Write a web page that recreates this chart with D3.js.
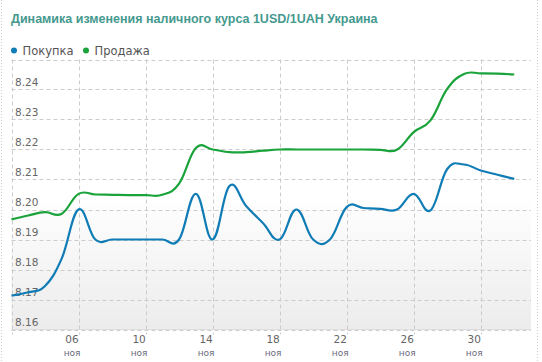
<!DOCTYPE html>
<html>
<head>
<meta charset="utf-8">
<script src="https://cdn.jsdelivr.net/npm/d3@7"></script>
<style>
  body { margin: 0; background: #fff; }
  svg { display: block; }
</style>
</head>
<body>
<div id="chart"></div>
<script>
// days of the period (Nov 2 - Dec 2, 2013)
var startDay = new Date(2013, 10, 2);
var endDay = new Date(2013, 11, 3);

var buyValues = [8.1713, 8.1724, 8.1745, 8.1837, 8.2000, 8.1900, 8.1900, 8.1900, 8.1900, 8.1900,
                 8.1900, 8.2052, 8.1900, 8.2078, 8.2012, 8.1955, 8.1900, 8.2000, 8.1900, 8.1900,
                 8.2008, 8.2005, 8.2002, 8.2000, 8.2052, 8.1997, 8.2135, 8.2150, 8.2130, 8.2116,
                 8.2102];
var sellValues = [8.1967, 8.1980, 8.1991, 8.1986, 8.2052, 8.2050, 8.2049, 8.2048, 8.2048, 8.2049,
                  8.2086, 8.2205, 8.2200, 8.2191, 8.2191, 8.2196, 8.2200, 8.2200, 8.2200, 8.2200,
                  8.2200, 8.2200, 8.2199, 8.2199, 8.2258, 8.2297, 8.2402, 8.2452, 8.2454, 8.2453,
                  8.2450];
var seriesNames = ["Покупка", "Продажа"];
var seriesColors = ["#0f7cb6", "#19a33a"];
var yTicks = [8.16, 8.17, 8.18, 8.19, 8.20, 8.21, 8.22, 8.23, 8.24, 8.25];
var monthLabel = "ноя";
var titleText = "Динамика изменения наличного курса 1USD/1UAH Украина";

var attrs = {
    width: 542,
    height: 362,
    plot: { left: 11.5, right: 531, top: 59.5, bottom: 329.5 }
};

var dates = buyValues.map(function(d, i) { return d3.timeDay.offset(startDay, i); });
var series = [buyValues, sellValues].map(function(vals, s) {
    return { name: seriesNames[s], color: seriesColors[s],
             points: vals.map(function(v, i) { return { date: dates[i], value: v }; }) };
});

var x = d3.scaleTime().domain([startDay, endDay]).range([attrs.plot.left, attrs.plot.right]);
var y = d3.scaleLinear().domain([8.16, 8.25]).range([attrs.plot.bottom, attrs.plot.top]);

var svg = d3.select("#chart").append("svg")
    .attr("width", attrs.width)
    .attr("height", attrs.height);

// background gradient of the plot area
var grad = svg.append("defs").append("linearGradient")
    .attr("id", "plotBg").attr("x1", 0).attr("y1", 0).attr("x2", 0).attr("y2", 1);
grad.append("stop").attr("offset", "0%").attr("stop-color", "#ffffff");
grad.append("stop").attr("offset", "50%").attr("stop-color", "#ffffff");
grad.append("stop").attr("offset", "100%").attr("stop-color", "#ececec");

// dotted frame left and right
[1.5, 537.5].forEach(function(fx) {
    svg.append("line")
        .attr("x1", fx).attr("x2", fx).attr("y1", 0).attr("y2", attrs.height)
        .attr("stroke", "#cfcfcf").attr("stroke-dasharray", "1,2");
});

// title
svg.append("text")
    .attr("x", 11).attr("y", 22.5)
    .attr("font-family", "'Liberation Sans', Arial, sans-serif")
    .attr("font-weight", "bold")
    .attr("font-size", 12.5)
    .attr("fill", "#45998f")
    .text(titleText);

// legend
var legendX = [14, 86];
var legend = svg.selectAll(".legend").data(series).enter().append("g").attr("class", "legend");
legend.append("circle")
    .attr("cx", function(d, i) { return legendX[i]; })
    .attr("cy", 50.5)
    .attr("r", 3)
    .attr("fill", function(d) { return d.color; });
legend.append("text")
    .attr("x", function(d, i) { return legendX[i] + 8.5; })
    .attr("y", 55)
    .attr("font-family", "'DejaVu Sans', Verdana, sans-serif")
    .attr("font-size", 11.5)
    .attr("fill", "#555")
    .text(function(d) { return d.name; });

var g = svg.append("g");

g.append("rect")
    .attr("x", attrs.plot.left).attr("y", attrs.plot.top)
    .attr("width", attrs.plot.right - attrs.plot.left)
    .attr("height", attrs.plot.bottom - attrs.plot.top)
    .attr("fill", "url(#plotBg)");

// horizontal grid + y labels
g.selectAll(".hgrid").data(yTicks).enter().append("line")
    .attr("class", "hgrid")
    .attr("x1", attrs.plot.left).attr("x2", attrs.plot.right)
    .attr("y1", function(d) { return Math.round(y(d)) + 0.5; })
    .attr("y2", function(d) { return Math.round(y(d)) + 0.5; })
    .attr("stroke", "#cccccc")
    .attr("stroke-dasharray", "4,3");

g.selectAll(".ylab").data(yTicks.slice(0, -1)).enter().append("text")
    .attr("class", "ylab")
    .attr("x", 15)
    .attr("y", function(d) { return y(d) - 3.5; })
    .attr("font-family", "'DejaVu Sans', Verdana, sans-serif")
    .attr("font-size", 10.5)
    .attr("fill", "#666")
    .text(function(d) { return d3.format(".2f")(d); });

// vertical grid every 4 days
var xTicks = d3.timeDay.range(startDay, endDay, 4);
g.selectAll(".vgrid").data(xTicks).enter().append("line")
    .attr("class", "vgrid")
    .attr("x1", function(d) { return Math.round(x(d)) + 0.5; })
    .attr("x2", function(d) { return Math.round(x(d)) + 0.5; })
    .attr("y1", attrs.plot.top).attr("y2", attrs.plot.bottom + 5)
    .attr("stroke", "#cccccc")
    .attr("stroke-dasharray", "4,3");

g.append("line")
    .attr("x1", attrs.plot.left).attr("x2", attrs.plot.right)
    .attr("y1", attrs.plot.bottom).attr("y2", attrs.plot.bottom)
    .attr("stroke", "#dddddd");

// x labels (first one is cut off at the plot edge)
var xLab = g.selectAll(".xlab").data(xTicks.slice(1)).enter().append("g")
    .attr("class", "xlab")
    .attr("transform", function(d) { return "translate(" + (x(d) - 6.5) + ",0)"; });
xLab.append("text")
    .attr("y", 343)
    .attr("text-anchor", "middle")
    .attr("font-family", "'DejaVu Sans', Verdana, sans-serif")
    .attr("font-size", 10.5)
    .attr("fill", "#666")
    .text(d3.timeFormat("%d"));
xLab.append("text")
    .attr("y", 356)
    .attr("text-anchor", "middle")
    .attr("font-family", "'DejaVu Sans', Verdana, sans-serif")
    .attr("font-size", 9)
    .attr("fill", "#6a6a7a")
    .text(monthLabel);

// lines
var line = d3.line()
    .x(function(d) { return x(d.date); })
    .y(function(d) { return y(d.value); })
    .curve(d3.curveCardinal.tension(-0.2));

g.selectAll(".series").data(series).enter().append("path")
    .attr("class", "series")
    .attr("d", function(d) { return line(d.points); })
    .attr("fill", "none")
    .attr("stroke", function(d) { return d.color; })
    .attr("stroke-width", 2.2)
    .attr("stroke-linejoin", "round");
</script>
</body>
</html>
